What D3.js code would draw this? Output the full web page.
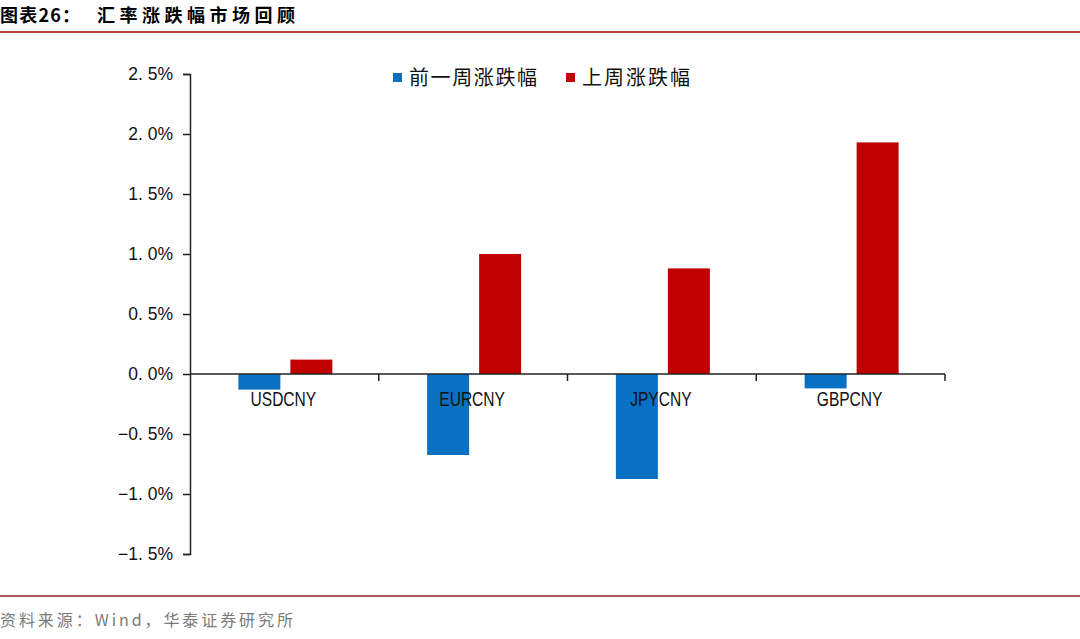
<!DOCTYPE html>
<html>
<head>
<meta charset="utf-8">
<script src="https://cdn.jsdelivr.net/npm/d3@7"></script>
<style>
    body { margin: 0; background: #fff; }
    svg { display: block; }
</style>
</head>
<body>
<svg id="chart" width="1080" height="639"></svg>
<script>
const categories = ["USDCNY", "EURCNY", "JPYCNY", "GBPCNY"];
const seriesNames = ["前一周涨跌幅", "上周涨跌幅"];
const prevWeek = [-0.13, -0.675, -0.875, -0.12];
const lastWeek = [0.12, 1.0, 0.88, 1.93];
const tickValues = [2.5, 2.0, 1.5, 1.0, 0.5, 0.0, -0.5, -1.0, -1.5];
const tickLabels = ["2. 5%", "2. 0%", "1. 5%", "1. 0%", "0. 5%", "0. 0%", "−0. 5%", "−1. 0%", "−1. 5%"];
const colors = ["#0a70c2", "#c00000"];

const svg = d3.select("svg#chart");
const W = 1080, H = 639;

// шапка и подвал
svg.append("text")
    .attr("x", 0).attr("y", 22)
    .style("font-family", "'Noto Sans CJK SC', sans-serif")
    .style("font-weight", "bold")
    .style("font-size", "18px")
    .attr("textLength", 80).attr("lengthAdjust", "spacing")
    .text("图表26：");
svg.append("text")
    .attr("x", 97).attr("y", 22)
    .style("font-family", "'Noto Sans CJK SC', sans-serif")
    .style("font-weight", "bold")
    .style("font-size", "18px")
    .attr("textLength", 198).attr("lengthAdjust", "spacing")
    .text("汇率涨跌幅市场回顾");
svg.append("line")
    .attr("x1", 0).attr("x2", W).attr("y1", 32).attr("y2", 32)
    .style("stroke", "#b94a3e").style("stroke-width", 2);
svg.append("line")
    .attr("x1", 0).attr("x2", W).attr("y1", 596).attr("y2", 596)
    .style("stroke", "#a85a55").style("stroke-width", 2);
svg.append("text")
    .attr("x", 0).attr("y", 626)
    .style("font-family", "'Noto Sans CJK SC', sans-serif")
    .style("font-size", "16px")
    .style("fill", "#7a7a7a")
    .attr("textLength", 293).attr("lengthAdjust", "spacing")
    .text("资料来源：Wind，华泰证券研究所");

// шкалы
const scaleY = d3.scaleLinear().domain([-1.5, 2.5]).range([554, 74]);
const scaleX = d3.scaleBand().domain(categories).range([190, 945]).padding(0);
const bw = scaleX.bandwidth();
const scaleInner = d3.scaleBand().domain(seriesNames)
    .range([bw / 2 - 46, bw / 2 + 48])
    .paddingInner(10 / 52).paddingOuter(0);

// ось Y
const axisY = d3.axisLeft(scaleY)
    .tickValues(tickValues)
    .tickSize(7)
    .tickFormat((d, i) => tickLabels[i]);
const gy = svg.append("g")
    .attr("transform", "translate(190,0)")
    .call(axisY);
gy.select(".domain").style("stroke", "#222").style("stroke-width", 1.5);
gy.selectAll(".tick line").style("stroke", "#222").style("stroke-width", 1.5);
gy.selectAll(".tick text")
    .attr("x", -17)
    .style("font-family", "'Liberation Sans', Arial, sans-serif")
    .style("font-size", "17.5px")
    .style("fill", "#111");

// столбцы
const series = [prevWeek, lastWeek];
series.forEach((vals, s) => {
    svg.append("g").selectAll("rect")
        .data(vals)
        .join("rect")
        .attr("x", (d, i) => scaleX(categories[i]) + scaleInner(seriesNames[s]))
        .attr("width", scaleInner.bandwidth())
        .attr("y", d => scaleY(Math.max(0, d)))
        .attr("height", d => Math.abs(scaleY(d) - scaleY(0)))
        .style("fill", colors[s]);
});

// ось X по нулю
const axisX = d3.axisBottom(scaleX).tickSize(0).tickFormat("");
const gx = svg.append("g")
    .attr("transform", `translate(0, ${scaleY(0)})`)
    .call(axisX);
gx.select(".domain").remove();
gx.append("line")
    .attr("x1", 190).attr("x2", 945)
    .style("stroke", "#222").style("stroke-width", 1.5);
gx.selectAll(".sep")
    .data(categories)
    .join("line")
    .attr("class", "sep")
    .attr("x1", d => scaleX(d) + bw).attr("x2", d => scaleX(d) + bw)
    .attr("y1", 0).attr("y2", 7)
    .style("stroke", "#222").style("stroke-width", 1.5);

// подписи категорий — узкий шрифт, сжимаем глифы
svg.append("g").selectAll("text")
    .data(categories)
    .join("text")
    .attr("x", d => scaleX(d) + bw / 2 - 1)
    .attr("y", scaleY(0) + 32)
    .attr("text-anchor", "middle")
    .style("font-family", "'Liberation Sans', Arial, sans-serif")
    .style("font-size", "21px")
    .style("fill", "#111")
    .text(d => d)
    .each(function () {
        const len = this.getComputedTextLength();
        d3.select(this)
            .attr("textLength", len * 0.74)
            .attr("lengthAdjust", "spacingAndGlyphs");
    });

// легенда
const legendX = [393, 566];
seriesNames.forEach((name, s) => {
    svg.append("rect")
        .attr("x", legendX[s]).attr("y", 73)
        .attr("width", 9).attr("height", 9)
        .style("fill", colors[s]);
    svg.append("text")
        .attr("x", legendX[s] + 16).attr("y", 85)
        .style("font-family", "'Noto Sans CJK SC', sans-serif")
        .style("font-size", "20px")
        .style("fill", "#111")
        .attr("textLength", s === 0 ? 128 : 108).attr("lengthAdjust", "spacing")
        .text(name);
});
</script>
</body>
</html>
